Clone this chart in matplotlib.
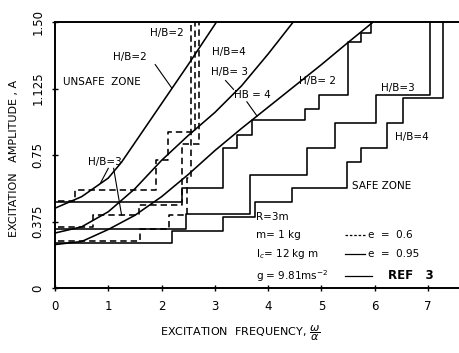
import numpy as np
import matplotlib
matplotlib.use('Agg')
import matplotlib.pyplot as plt

# stability boundary curves (solid, smooth)
c1_x = [0, 0.5, 1.0, 1.25, 1.5, 2.0, 2.5, 3.03]
c1_y = [0.45, 0.515, 0.62, 0.71, 0.82, 1.04, 1.26, 1.5]
c2_x = [0, 0.5, 1.0, 1.5, 2.0, 2.5, 3.0, 3.5, 4.0, 4.47]
c2_y = [0.31, 0.345, 0.43, 0.56, 0.72, 0.86, 0.99, 1.14, 1.32, 1.5]
c3_x = [0, 0.5, 1.0, 1.5, 2.0, 2.5, 3.0, 3.5, 4.0, 4.5, 5.0, 5.5, 5.97]
c3_y = [0.245, 0.262, 0.33, 0.41, 0.515, 0.64, 0.775, 0.9, 1.02, 1.14, 1.26, 1.385, 1.5]

# staircases e = 0.95 (solid)
s2_x = [0, 2.38, 2.38, 3.16, 3.16, 3.41, 3.41, 3.69, 3.69, 4.69, 4.69, 4.96, 4.96, 5.5, 5.5, 5.75, 5.75, 5.92, 5.92]
s2_y = [0.487, 0.487, 0.565, 0.565, 0.79, 0.79, 0.863, 0.863, 0.945, 0.945, 1.01, 1.01, 1.09, 1.09, 1.39, 1.39, 1.436, 1.436, 1.5]
s3_x = [0, 2.45, 2.45, 3.66, 3.66, 4.72, 4.72, 5.25, 5.25, 6.03, 6.03, 7.03, 7.03]
s3_y = [0.33, 0.33, 0.42, 0.42, 0.637, 0.637, 0.788, 0.788, 0.93, 0.93, 1.089, 1.089, 1.5]
s4_x = [0, 2.2, 2.2, 3.16, 3.16, 3.75, 3.75, 4.44, 4.44, 5.47, 5.47, 5.75, 5.75, 6.22, 6.22, 6.53, 6.53, 7.28, 7.28]
s4_y = [0.255, 0.255, 0.32, 0.32, 0.40, 0.40, 0.487, 0.487, 0.562, 0.562, 0.712, 0.712, 0.788, 0.788, 0.929, 0.929, 1.07, 1.07, 1.5]

# staircases e = 0.6 (dashed)
d2_x = [0.05, 0.375, 0.375, 1.9, 1.9, 2.12, 2.12, 2.62, 2.62]
d2_y = [0.49, 0.49, 0.555, 0.555, 0.72, 0.72, 0.88, 0.88, 1.5]
d3_x = [0.05, 0.72, 0.72, 1.57, 1.57, 2.38, 2.38, 2.7, 2.7]
d3_y = [0.345, 0.345, 0.41, 0.41, 0.47, 0.47, 0.81, 0.81, 1.5]
d4_x = [0.05, 1.6, 1.6, 2.14, 2.14, 2.48, 2.48, 2.56, 2.56]
d4_y = [0.265, 0.265, 0.335, 0.335, 0.41, 0.41, 0.62, 0.62, 1.5]

xticks = [0, 1, 2, 3, 4, 5, 6, 7]
yticks = [0, 0.375, 0.75, 1.125, 1.5]
ytick_labels = ['0', '0.375', '0.75', '1.125', '1.50']

fig = plt.figure(figsize=(4.59, 3.53), dpi=100)
ax = fig.add_axes([55/459, 65/353, 404/459, 266/353])
ax.set_xlim(0, 7.58)
ax.set_ylim(0, 1.5)

lw = 1.15
for x, y in [(c1_x, c1_y), (c2_x, c2_y), (c3_x, c3_y)]:
    ax.plot(x, y, color='black', lw=lw, clip_on=False)
for x, y in [(s2_x, s2_y), (s3_x, s3_y), (s4_x, s4_y)]:
    ax.plot(x, y, color='black', lw=lw, clip_on=False)
for x, y in [(d2_x, d2_y), (d3_x, d3_y), (d4_x, d4_y)]:
    ax.plot(x, y, color='black', lw=lw, ls=(0, (4, 2.5)))

ax.spines['right'].set_visible(False)
for s in ['left', 'bottom', 'top']:
    ax.spines[s].set_linewidth(1.4)
ax.set_xticks(xticks)
ax.set_xticklabels([str(t) for t in xticks], fontsize=8.5)
ax.set_yticks(yticks)
ax.set_yticklabels(ytick_labels, rotation=90, va='center', fontsize=8.5)
ax.tick_params(direction='inout', length=5, width=1)
ax.tick_params(axis='x', pad=6)
ax.tick_params(axis='y', pad=5)

fs = 7.5
ax.text(0.15, 1.16, 'UNSAFE  ZONE', fontsize=fs, va='center')
ax.text(5.57, 0.575, 'SAFE ZONE', fontsize=fs, va='center')

def lab(txt, x, y, px=None, py=None):
    ax.text(x, y, txt, fontsize=fs, ha='center', va='center')
    if px is not None:
        ax.plot(px, py, color='black', lw=0.8)

lab('H/B=2', 2.1, 1.44)
lab('H/B=2', 1.4, 1.30, [1.88, 2.19], [1.26, 1.128])
lab('H/B=4', 3.26, 1.33)
lab('H/B= 3', 3.28, 1.22, [3.2, 3.35], [1.17, 1.12])
lab('HB = 4', 3.7, 1.09, [3.6, 3.79], [1.05, 0.97])
lab('H/B= 2', 4.92, 1.17)
lab('H/B=3', 6.43, 1.13)
lab('H/B=4', 6.7, 0.85)
lab('H/B=3', 0.94, 0.71, [1.0, 0.85], [0.675, 0.59])
ax.plot([1.1, 1.25], [0.675, 0.41], color='black', lw=0.8)

# parameter block
ax.text(3.78, 0.40, 'R=3m', fontsize=fs, va='center')
ax.text(3.78, 0.30, 'm= 1 kg', fontsize=fs, va='center')
ax.text(3.78, 0.19, r'I$_c$= 12 kg m', fontsize=fs, va='center')
ax.text(3.78, 0.068, r'g = 9.81ms$^{-2}$', fontsize=fs, va='center')
ax.plot([5.44, 5.82], [0.30, 0.30], color='black', lw=0.9, ls=(0, (2, 1.5)))
ax.text(5.87, 0.30, 'e  =  0.6', fontsize=fs, va='center')
ax.plot([5.44, 5.82], [0.19, 0.19], color='black', lw=0.9)
ax.text(5.87, 0.19, 'e  =  0.95', fontsize=fs, va='center')
ax.plot([5.44, 5.95], [0.068, 0.068], color='black', lw=0.9)
ax.text(6.25, 0.068, 'REF   3', fontsize=8.5, fontweight='bold', va='center')

fig.text(14/459, 0.552, 'EXCITATION   AMPLITUDE , A', rotation=90,
         ha='center', va='center', fontsize=8)
fig.text(240/459, 20/353, r'EXCITATION  FREQUENCY, $\dfrac{\omega}{\alpha}$',
         ha='center', va='center', fontsize=8)

fig.savefig('out.png', dpi=100)
